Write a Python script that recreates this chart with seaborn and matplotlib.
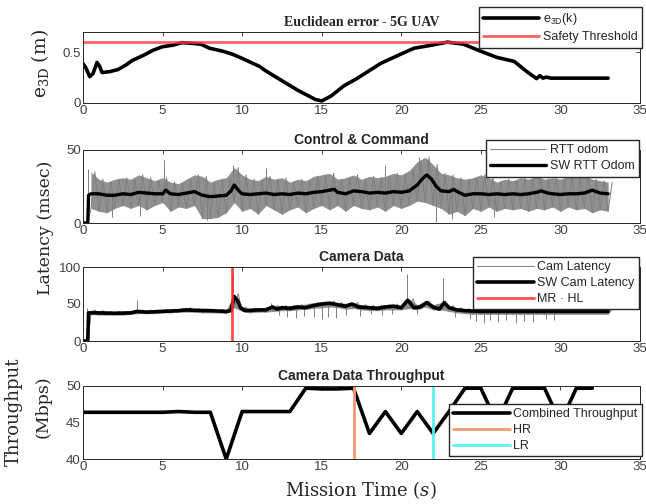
import numpy as np
import matplotlib.pyplot as plt
import seaborn as sns

# ---------------- data ----------------
# Euclidean error (m)
e3d_time = [0, 0.2, 0.42, 0.63, 0.88, 1.05, 1.2, 1.7, 2.2, 2.7, 3.1, 3.8, 4.4, 5.0, 5.65, 6.2,
            6.7, 7.4, 7.95, 8.8, 9.4, 10.0, 11.1, 11.45, 12.5, 13.5, 14.6, 15.0, 15.6, 16.4,
            17.2, 18.0, 18.7, 19.8, 20.8, 21.9, 22.9, 23.9, 25.0, 26.0, 27.1, 27.8, 28.5,
            28.7, 28.9, 29.1, 29.4, 30, 31, 32, 33]
e3d_err = [0.39, 0.34, 0.26, 0.29, 0.40, 0.36, 0.30, 0.31, 0.33, 0.375, 0.42, 0.47, 0.52,
           0.555, 0.57, 0.595, 0.59, 0.58, 0.54, 0.51, 0.48, 0.44, 0.36, 0.32, 0.22, 0.125,
           0.035, 0.02, 0.07, 0.17, 0.24, 0.32, 0.39, 0.47, 0.54, 0.57, 0.60, 0.58, 0.51,
           0.45, 0.41, 0.32, 0.24, 0.27, 0.245, 0.255, 0.245, 0.245, 0.245, 0.245, 0.245]
safety_threshold = 0.6

# Control & Command latency (msec): raw band sampled every 0.5 s
rtt_grid = np.arange(0.5, 33.01, 0.5)
rtt_hi = [35, 30, 28, 30, 31, 30, 33, 31, 29, 31, 28, 27, 30, 33, 32, 28, 30, 31, 38, 33,
          30, 29, 32, 30, 31, 28, 30, 29, 32, 33, 34, 30, 31, 33, 30, 32, 31, 32, 34, 33,
          36, 42, 45, 40, 34, 33, 31, 30, 31, 33, 31, 28, 30, 29, 31, 30, 32, 30, 31, 30,
          32, 31, 33, 30, 29, 28]
rtt_lo = [10, 8, 7, 10, 12, 10, 12, 9, 12, 14, 8, 11, 10, 12, 3, 3, 4, 7, 14, 8,
          10, 6, 12, 9, 6, 9, 11, 7, 10, 12, 9, 12, 8, 12, 10, 9, 11, 8, 12, 10,
          12, 15, 14, 12, 10, 6, 8, 5, 10, 8, 11, 8, 10, 9, 10, 8, 10, 9, 11, 8,
          11, 9, 10, 7, 9, 8]
rtt_spike_t = [0.3, 1.8, 3.6, 5.1, 7.8, 9.4, 11.5, 19.0, 21.1, 21.6, 22.2, 23.2, 25.8]
rtt_spike_v = [37, 4, 5, 43, 2, 40, 38, 40, 45, 44, 1, 3, 4]
sw_rtt_time = [0, 0.3, 0.35, 0.5, 1, 1.5, 2, 2.5, 3, 3.5, 4, 4.5, 5, 5.2, 5.5, 6, 6.5, 7,
               7.5, 8, 8.5, 9, 9.3, 9.5, 9.8, 10, 10.5, 11, 11.5, 12, 12.5, 13, 13.5, 14,
               14.5, 15, 15.5, 15.8, 16, 16.5, 17, 17.5, 18, 18.5, 19, 19.5, 20, 20.5, 21,
               21.3, 21.6, 21.9, 22.2, 22.5, 23, 23.3, 23.6, 24, 24.5, 25, 25.5, 26, 26.5,
               27, 27.5, 28, 28.5, 28.8, 29.2, 29.5, 30, 30.5, 31, 31.5, 32, 32.5, 33]
sw_rtt = [0, 0, 19, 20, 20, 19, 19, 20, 19.5, 21, 20.5, 20, 20, 22.5, 20, 19.5, 20.5, 21.5,
          19, 18, 18.5, 19, 22, 26, 22, 20, 19.5, 20, 20.5, 19.5, 20, 19.5, 20.5, 20,
          21, 21.5, 22.5, 23, 21, 20, 22, 21.5, 20.5, 21, 20.5, 21.5, 21, 22, 26,
          30, 33, 30, 25, 22, 21.5, 23, 21, 19, 20, 20, 19.5, 20, 19.5,
          20, 19.5, 20, 21, 22, 20.5, 20, 19.5, 20, 20, 20.5, 22.5, 20.5, 20]

# Camera data latency (msec)
cam_grid = np.arange(0.5, 33.01, 0.5)
cam_hi = [42, 41, 40, 40, 40, 41, 42, 42, 42, 43, 43, 44, 45, 44, 43, 43, 43, 42, 64, 46,
          44, 44, 46, 48, 48, 48, 49, 50, 52, 53, 54, 52, 51, 52, 49, 48, 48, 49, 50, 48,
          57, 49, 54, 49, 52, 48, 45, 44, 43, 43, 43, 43, 43, 43, 43, 43, 43, 43, 43, 43,
          43, 43, 43, 43, 43, 43]
cam_lo = [36, 35, 35, 35, 35, 36, 37, 37, 37, 38, 38, 39, 39, 39, 38, 38, 38, 37, 45, 40,
          38, 39, 39, 40, 41, 41, 42, 43, 44, 45, 46, 45, 43, 44, 42, 41, 41, 42, 42, 42,
          44, 42, 46, 42, 42, 40, 38, 37, 36, 36, 36, 36, 36, 36, 36, 36, 36, 36, 36, 36,
          36, 36, 36, 36, 36, 36]
cam_spike_t = [0.25, 3.4, 9.35, 9.45, 11.8, 12.3, 12.8, 13.4, 13.9, 14.5, 15.0, 15.4, 15.9,
               16.5, 17.4, 18.1, 18.8, 19.4, 20.35, 21.0, 22.6, 23.4, 24.3, 24.7, 25.2,
               25.6, 26.1, 26.6, 27.2, 27.7, 28.3, 29.1, 29.6]
cam_spike_v = [45, 55, 97, 92, 52, 35, 33, 31, 34, 32, 30, 33, 31,
               35, 34, 36, 35, 37, 91, 36, 85, 33, 30, 27, 25,
               28, 26, 29, 24, 27, 26, 30, 29]
sw_cam_time = [0, 0.3, 0.35, 1, 2, 3, 3.4, 4, 5, 6, 6.5, 7, 8, 9, 9.3, 9.5, 9.7, 9.9, 10.2,
               11, 11.5, 11.9, 12.2, 12.5, 13, 13.5, 14, 14.5, 15, 15.5, 16, 16.5, 16.9,
               17.3, 18, 18.5, 19, 19.5, 20, 20.4, 20.8, 21.2, 21.6, 22, 22.4, 22.7, 23,
               23.5, 24, 25, 26, 27, 28, 29, 30, 31, 32, 33]
sw_cam = [0, 0, 38, 38, 37.5, 38, 40, 39, 40, 41, 42, 41.5, 41, 40, 41, 60, 55, 45, 41,
          42, 42, 46, 43, 45, 44, 46, 45, 48, 50, 51, 49, 47, 50,
          46, 45, 44, 46, 47, 45, 55, 45, 46, 52, 46, 43, 52, 45,
          42, 41, 40, 40, 40, 40, 40, 40, 40, 40, 40]
mr_hl_time = 9.35

# Camera data throughput (Mbps), one sample per second
thr_time = list(range(0, 33))
thr_mbps = [46.4, 46.4, 46.4, 46.4, 46.4, 46.4, 46.5, 46.4, 46.4, 40.0, 46.5, 46.5, 46.5,
            46.5, 49.7, 49.6, 49.6, 49.7, 43.5, 46.5, 43.5, 46.5, 43.5, 46.5, 49.7, 49.7,
            45.0, 49.7, 49.7, 49.7, 45.0, 49.7, 49.7]
hr_time = 17
lr_time = 22


def raw_series(grid, lo, hi):
    # alternate low/high readings to mimic the dense raw trace
    t = np.concatenate([[0, 0.3], grid, np.asarray(grid) + 0.25])
    v = np.concatenate([[0, 0], lo, hi])
    order = np.argsort(t, kind="stable")
    return t[order], v[order]


def draw_raw(ax, grid, lo, hi, spike_t, spike_v, sw_t, sw_v, label):
    ax.fill_between(grid, lo, hi, color="#909090", linewidth=0)
    t, v = raw_series(grid, lo, hi)
    sns.lineplot(x=t, y=v, ax=ax, color=raw_grey, linewidth=0.7, label=label,
                 sort=False, estimator=None)
    # isolated outliers as thin vertical strokes from the running level
    base = np.interp(spike_t, sw_t, sw_v)
    ax.vlines(spike_t, np.minimum(base, spike_v), np.maximum(base, spike_v),
              color=raw_grey, linewidth=0.7)


sns.set_style("white")
plt.rcParams["font.family"] = ["Liberation Sans", "DejaVu Sans"]
plt.rcParams["mathtext.fontset"] = "dejavuserif"

fig = plt.figure(figsize=(6.46, 5.04), dpi=100)
W, H = 646, 504
boxes = [(32, 103), (150, 223), (267, 341), (386, 459)]
axes = [fig.add_axes([83 / W, 1 - b / H, 557 / W, (b - t) / H]) for t, b in boxes]
ax1, ax2, ax3, ax4 = axes

serif = "DejaVu Serif"
raw_grey = "#7f7f7f"
leg_kw = dict(loc="upper right", bbox_transform=fig.transFigure, fontsize=9,
              frameon=True, fancybox=False, edgecolor="#262626", framealpha=1,
              handlelength=4.5, handletextpad=0.3, labelspacing=0.3, borderpad=0.35,
              borderaxespad=0)

# 1. Euclidean error
sns.lineplot(x=e3d_time, y=e3d_err, ax=ax1, color="black", linewidth=2.6,
             label=r"e$_\mathregular{3D}$(k)", sort=False, estimator=None)
ax1.axhline(safety_threshold, color="#ff3b3b", alpha=0.8, linewidth=2,
            label="Safety Threshold")
ax1.set_ylim(0, 0.7)
ax1.set_yticks([0, 0.5])
ax1.set_yticklabels(["0", "0.5"])
ax1.set_title("Euclidean error - 5G UAV", fontsize=10, fontweight="bold",
              family="Liberation Serif", pad=4)
ax1.legend(bbox_to_anchor=(642 / W, 1 - 7 / H), **leg_kw)

# 2. Control & Command
draw_raw(ax2, rtt_grid, rtt_lo, rtt_hi, rtt_spike_t, rtt_spike_v,
         sw_rtt_time, sw_rtt, "RTT odom")
sns.lineplot(x=sw_rtt_time, y=sw_rtt, ax=ax2, color="black", linewidth=2.4,
             label="SW RTT Odom", sort=False, estimator=None)
ax2.set_ylim(0, 50)
ax2.set_yticks([0, 50])
ax2.set_title("Control & Command", fontsize=10, fontweight="bold", pad=4)
ax2.legend(bbox_to_anchor=(639 / W, 1 - 140 / H), **leg_kw)

# 3. Camera Data
draw_raw(ax3, cam_grid, cam_lo, cam_hi, cam_spike_t, cam_spike_v,
         sw_cam_time, sw_cam, "Cam Latency")
sns.lineplot(x=sw_cam_time, y=sw_cam, ax=ax3, color="black", linewidth=2.6,
             label="SW Cam Latency", sort=False, estimator=None)
ax3.axvline(mr_hl_time, color="#ff3030", alpha=0.85, linewidth=2, label="MR \u00b7 HL")
ax3.set_ylim(0, 100)
ax3.set_yticks([0, 50, 100])
ax3.set_title("Camera Data", fontsize=10, fontweight="bold", pad=4)
ax3.legend(bbox_to_anchor=(639 / W, 1 - 257 / H), **leg_kw)

# 4. Camera Data Throughput
sns.lineplot(x=thr_time, y=thr_mbps, ax=ax4, color="black", linewidth=2.6,
             label="Combined Throughput", sort=False, estimator=None)
ax4.axvline(hr_time, color="#fa9a70", linewidth=2, label="HR")
ax4.axvline(lr_time, color="#5ff0f0", linewidth=2, label="LR")
ax4.set_ylim(40, 50)
ax4.set_yticks([40, 45, 50])
ax4.set_title("Camera Data Throughput", fontsize=10, fontweight="bold", pad=4)
ax4.legend(bbox_to_anchor=(642 / W, 1 - 404 / H), **leg_kw)

for ax in axes:
    ax.set_xlim(0, 35)
    ax.set_xticks(range(0, 36, 5))
    ax.set_xlabel("")
    ax.set_ylabel("")
    ax.tick_params(direction="in", top=True, right=True, length=3, width=0.6,
                   colors="#262626", labelcolor="#404040", labelsize=9.5, pad=1.5)
    for s in ax.spines.values():
        s.set_color("#262626")
        s.set_linewidth(0.7)

# axis labels (figure level, serif like the original)
fig.text(40 / W, 1 - 64 / H, r"e$_\mathregular{3D}$ (m)", rotation=90, ha="center",
         va="center", family=serif, fontsize=13.5)
fig.text(45 / W, 1 - 228 / H, "Latency (msec)", rotation=90, ha="center", va="center",
         family=serif, fontsize=12.5)
fig.text(14 / W, 1 - 412 / H, "Throughput", rotation=90, ha="center", va="center",
         family=serif, fontsize=13)
fig.text(43 / W, 1 - 407 / H, "(Mbps)", rotation=90, ha="center", va="center",
         family=serif, fontsize=12.5)
fig.text(361 / W, 1 - 490 / H, r"Mission Time ($\mathit{s}$)", ha="center", va="center",
         family=serif, fontsize=13)

fig.savefig("out.png", dpi=100)
